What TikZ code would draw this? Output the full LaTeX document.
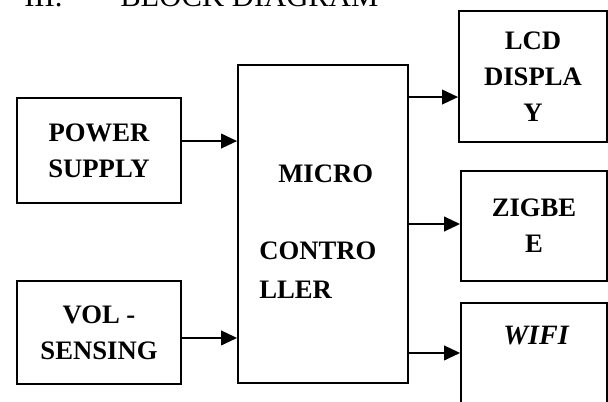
\documentclass[tikz,border=0pt]{standalone}
\usepackage{fontspec}
\setmainfont{Liberation Serif}
\usetikzlibrary{calc, arrows.meta}

\begin{document}
\begin{tikzpicture}[x=0.75pt,y=-0.75pt,>={Triangle[length=12pt,width=11pt]},
  blk/.style={draw,line width=1.4pt,inner sep=0pt,align=center,
    font=\fontsize{20}{27}\selectfont\bfseries},
  lbl/.style={inner sep=0pt,font=\fontsize{20}{29}\selectfont\bfseries},
  arr/.style={->,line width=1.4pt}]
\path[use as bounding box,clip] (0,0) rectangle (608,401);

\node[anchor=base west,inner sep=0pt,font=\fontsize{23}{27}\selectfont] (ttlnum) at (24,6) {III.};
\node[anchor=base west,inner sep=0pt,font=\fontsize{23}{27}\selectfont] (ttl) at (120,6) {BLOCK DIAGRAM};

\node[blk,minimum width=123pt,minimum height=78.75pt] (pwr) at (99,150.5) {POWER\\SUPPLY};
\node[blk,minimum width=123pt,minimum height=77.25pt] (vol) at (99,332.5) {VOL -\\SENSING};
\node[blk,minimum width=127.5pt,minimum height=238.5pt] (mcu) at (323,224) {};
\node[blk,minimum width=111pt,minimum height=98.25pt] (lcd) at (533,76.5) {LCD\\DISPLA\\Y};
\node[blk,minimum width=109.5pt,minimum height=82.5pt] (zig) at (534,226) {ZIGBE\\E};
\node[blk,minimum width=109.5pt,minimum height=87.75pt] (wifi) at (534,361.5) {};

\node[lbl,anchor=base west] (mcu1) at (278,182) {MICRO};
\node[lbl,anchor=base west,align=left] (mcu2) at (259,298) {CONTRO\\LLER};
\node[lbl,anchor=base,font=\fontsize{21}{27}\selectfont\bfseries\itshape] (wifitxt) at (536,344) {WIFI};

\draw[arr] ([yshift=7.1pt]pwr.east) -- ([yshift=7.1pt]pwr.east -| mcu.west);
\draw[arr] ([yshift=-4.1pt]vol.east) -- ([yshift=-4.1pt]vol.east -| mcu.west);

\draw[arr] ([yshift=-15.4pt]lcd.west -| mcu.east) -- ([yshift=-15.4pt]lcd.west);
\draw[arr] ([yshift=1.5pt]zig.west -| mcu.east) -- ([yshift=1.5pt]zig.west);
\draw[arr] ([yshift=6.4pt]wifi.west -| mcu.east) -- ([yshift=6.4pt]wifi.west);
\end{tikzpicture}
\end{document}
